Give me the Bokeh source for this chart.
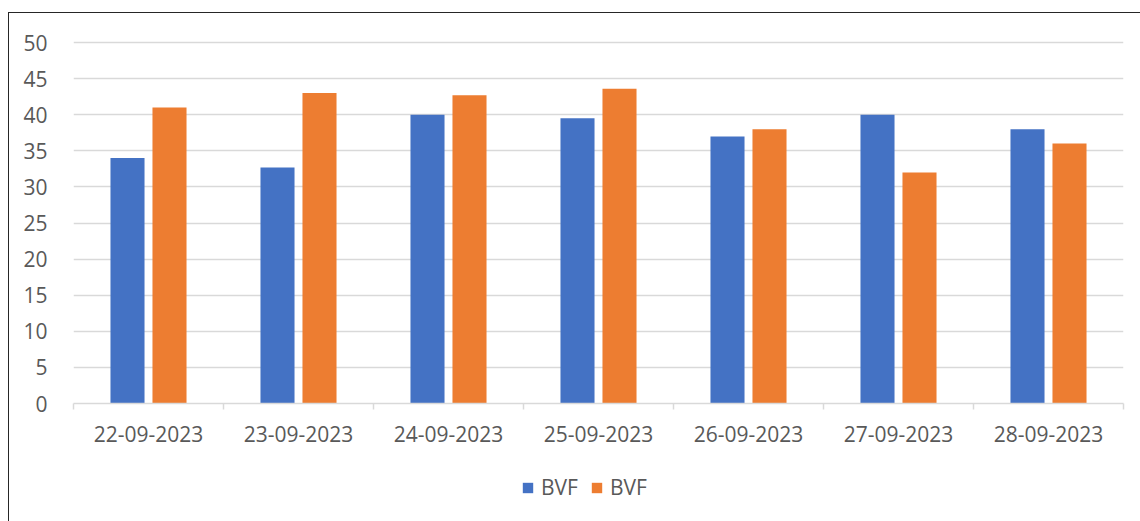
from bokeh.plotting import figure
from bokeh.layouts import column
from bokeh.models import (Range1d, FixedTicker, Legend, LegendItem, ColumnDataSource)
from bokeh.embed import file_html
from bokeh.resources import INLINE

# Daily readings for the two BVF series
dates = ["22-09-2023", "23-09-2023", "24-09-2023", "25-09-2023",
         "26-09-2023", "27-09-2023", "28-09-2023"]
series_a = [34, 32.7, 40, 39.5, 37, 40, 38]
series_b = [41, 43, 42.7, 43.6, 38, 32, 36]
series_names = ["BVF", "BVF"]
y_ticks = list(range(0, 51, 5))

BLUE = "#4472C4"
ORANGE = "#ED7D31"
GRID = "#D9D9D9"
TEXT = "#595959"
FONT = "Open Sans"

centers = [i + 0.5 for i in range(len(dates))]
offset = 0.14
bar_w = 0.227

src = ColumnDataSource(dict(
    xa=[c - offset for c in centers],
    xb=[c + offset for c in centers],
    a=series_a,
    b=series_b,
))

# a little headroom above 50 keeps the top grid line inside the frame
p = figure(width=1132, height=445,
           x_range=Range1d(0, len(dates)), y_range=Range1d(0, 50.28),
           output_backend="svg", toolbar_location=None,
           min_border_left=64, min_border_right=18,
           min_border_top=27, min_border_bottom=55,
           outline_line_color=None, background_fill_color="white")

p.vbar(x="xa", top="a", width=bar_w, source=src, fill_color=BLUE, line_color=None)
p.vbar(x="xb", top="b", width=bar_w, source=src, fill_color=ORANGE, line_color=None)

# x axis: labels at category centres, small ticks at category boundaries
xa = p.xaxis[0]
xa.ticker = FixedTicker(ticks=centers, minor_ticks=list(range(len(dates) + 1)))
xa.major_label_overrides = {c: d for c, d in zip(centers, dates)}
xa.axis_line_color = GRID
xa.axis_line_width = 1.5
xa.major_tick_line_color = None
xa.minor_tick_line_color = GRID
xa.minor_tick_line_width = 1.5
xa.minor_tick_in = 0
xa.minor_tick_out = 6
xa.major_label_standoff = 16
xa.major_label_text_font = FONT
xa.major_label_text_font_size = "21px"
xa.major_label_text_color = TEXT

ya = p.yaxis[0]
ya.ticker = FixedTicker(ticks=y_ticks)
ya.axis_line_color = None
ya.major_tick_line_color = None
ya.minor_tick_line_color = None
ya.major_label_standoff = 20
ya.major_label_text_font = FONT
ya.major_label_text_font_size = "21px"
ya.major_label_text_color = TEXT

p.xgrid.grid_line_color = None
p.ygrid.ticker = FixedTicker(ticks=y_ticks[1:])
p.ygrid.grid_line_color = GRID
p.ygrid.grid_line_width = 1.5

# legend strip underneath the chart; its key renderers share the bar data
# but lie entirely below this strip's visible range, so only the legend shows
lg = figure(width=1132, height=80, x_range=Range1d(0, len(dates)),
            y_range=Range1d(100, 101),
            x_axis_location=None, y_axis_location=None,
            output_backend="svg", toolbar_location=None,
            min_border=0, outline_line_color=None)
lg.grid.visible = False
key_a = lg.vbar(x="xa", top="a", width=bar_w, source=src, fill_color=BLUE, line_color=None)
key_b = lg.vbar(x="xb", top="b", width=bar_w, source=src, fill_color=ORANGE, line_color=None)

legend = Legend(items=[LegendItem(label=series_names[0], renderers=[key_a]),
                       LegendItem(label=series_names[1], renderers=[key_b])],
                orientation="horizontal", location=(448, 37),
                glyph_width=13, glyph_height=13,
                label_text_font=FONT, label_text_font_size="21px",
                label_text_color=TEXT, spacing=12, label_standoff=7,
                border_line_color=None, background_fill_alpha=0,
                margin=0, padding=0)
lg.add_layout(legend, "center")

page = column(p, lg, spacing=0, margin=(12, 0, 0, 8),
              styles={"border": "1px solid #262626"})

open("out.html", "w").write(file_html(page, INLINE))
